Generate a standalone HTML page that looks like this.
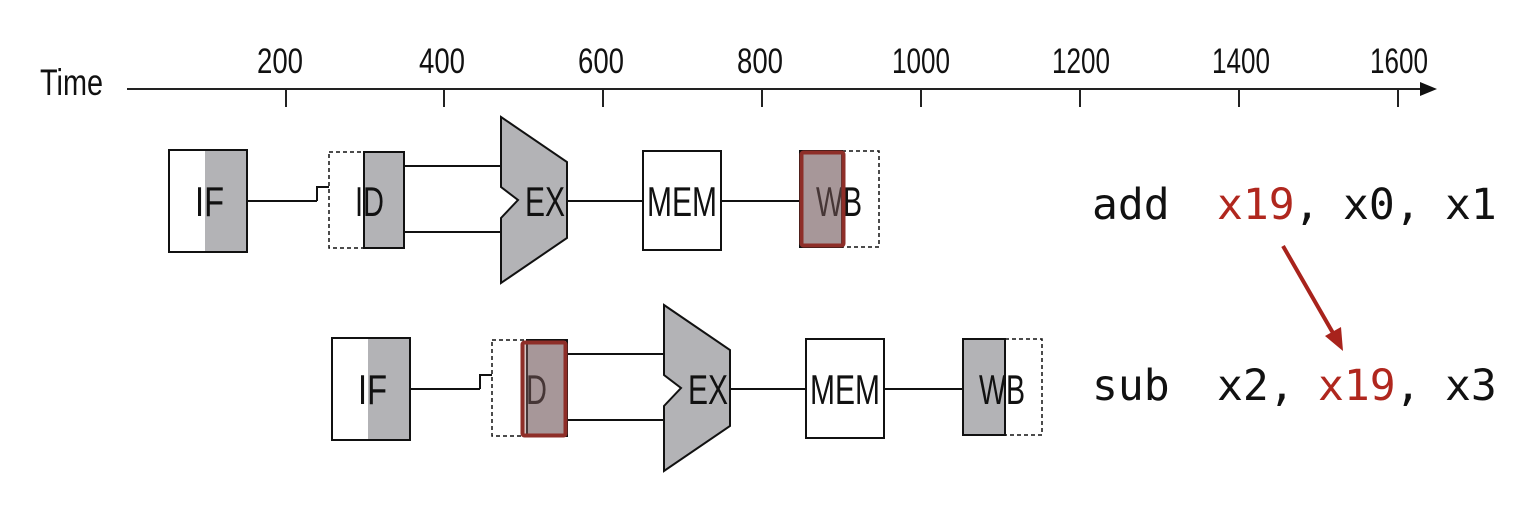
<!DOCTYPE html>
<html><head><meta charset="utf-8"><style>html,body{margin:0;padding:0;background:#fff}svg{display:block}</style></head>
<body>
<svg width="1520" height="518" viewBox="0 0 1520 518" xmlns="http://www.w3.org/2000/svg">
<defs>
<g id="row">
  <rect x="169" y="150" width="78" height="102" fill="#fff" stroke="#111" stroke-width="2"/>
  <rect x="205" y="151" width="41" height="100" fill="#b3b3b6"/>
  <line x1="247" y1="201" x2="317" y2="201" stroke="#111" stroke-width="2"/>
  <polyline points="317,201 317,187 329,187" fill="none" stroke="#111" stroke-width="2"/>
  <rect x="329" y="152" width="75" height="96" fill="#fff" stroke="#111" stroke-width="1.5" stroke-dasharray="4,3"/>
  <rect x="364" y="152" width="40" height="96" fill="#b3b3b6" stroke="#111" stroke-width="2"/>
  <line x1="404" y1="166" x2="501" y2="166" stroke="#111" stroke-width="2"/>
  <line x1="404" y1="232" x2="501" y2="232" stroke="#111" stroke-width="2"/>
  <polygon points="501,117 567,162 567,238 501,283 501,218 518,200 501,187" fill="#b3b3b6" stroke="#111" stroke-width="2"/>
  <line x1="567" y1="201" x2="643" y2="201" stroke="#111" stroke-width="2"/>
  <rect x="643" y="151" width="78" height="99" fill="#fff" stroke="#111" stroke-width="2"/>
  <line x1="721" y1="201" x2="800" y2="201" stroke="#111" stroke-width="2"/>
  <rect x="800" y="151" width="79" height="96" fill="#fff" stroke="#111" stroke-width="1.5" stroke-dasharray="4,3"/>
  <rect x="800" y="151" width="42" height="96" fill="#b3b3b6" stroke="#111" stroke-width="2"/>
  <g font-family="Liberation Sans, sans-serif" font-size="42" fill="#111">
    <text x="195" y="216" textLength="29" lengthAdjust="spacingAndGlyphs">IF</text>
    <text x="355" y="216" textLength="29" lengthAdjust="spacingAndGlyphs">ID</text>
    <text x="525" y="216" textLength="40" lengthAdjust="spacingAndGlyphs">EX</text>
    <text x="647" y="216" textLength="70" lengthAdjust="spacingAndGlyphs">MEM</text>
    <text x="816" y="216" textLength="46" lengthAdjust="spacingAndGlyphs">WB</text>
  </g>
</g>
</defs>

<line x1="127" y1="89" x2="1422" y2="89" stroke="#222" stroke-width="2"/>
<polygon points="1420,82 1437,89 1420,96" fill="#111"/>
<g stroke="#222" stroke-width="2">
  <line x1="286" y1="89" x2="286" y2="107"/><line x1="444" y1="89" x2="444" y2="107"/>
  <line x1="603" y1="89" x2="603" y2="107"/><line x1="762" y1="89" x2="762" y2="107"/>
  <line x1="921" y1="89" x2="921" y2="107"/><line x1="1080" y1="89" x2="1080" y2="107"/>
  <line x1="1239" y1="89" x2="1239" y2="107"/><line x1="1398" y1="89" x2="1398" y2="107"/>
</g>
<g font-family="Liberation Sans, sans-serif" font-size="35" fill="#111" text-anchor="middle">
  <text x="280" y="73" textLength="46" lengthAdjust="spacingAndGlyphs">200</text>
  <text x="442" y="73" textLength="46" lengthAdjust="spacingAndGlyphs">400</text>
  <text x="601" y="73" textLength="46" lengthAdjust="spacingAndGlyphs">600</text>
  <text x="760" y="73" textLength="46" lengthAdjust="spacingAndGlyphs">800</text>
  <text x="921" y="73" textLength="58" lengthAdjust="spacingAndGlyphs">1000</text>
  <text x="1081" y="73" textLength="58" lengthAdjust="spacingAndGlyphs">1200</text>
  <text x="1241" y="73" textLength="58" lengthAdjust="spacingAndGlyphs">1400</text>
  <text x="1399" y="73" textLength="58" lengthAdjust="spacingAndGlyphs">1600</text>
</g>
<text x="40" y="95" font-family="Liberation Sans, sans-serif" font-size="37" fill="#111" textLength="63" lengthAdjust="spacingAndGlyphs">Time</text>

<use href="#row"/>
<use href="#row" transform="translate(163,188)"/>

<rect x="801.5" y="152.5" width="42" height="93" fill="rgba(150,110,110,0.4)" stroke="#8e2e28" stroke-width="4" rx="2"/>
<rect x="522.5" y="342.5" width="43" height="93" fill="rgba(150,110,110,0.4)" stroke="#8e2e28" stroke-width="4" rx="2"/>

<g font-family="DejaVu Sans Mono, Liberation Mono, monospace" font-size="43" fill="#111">
  <text y="219"><tspan x="1092">add</tspan><tspan x="1217" fill="#b0271e">x19</tspan><tspan x="1294">,</tspan><tspan x="1343">x0,</tspan><tspan x="1445">x1</tspan></text>
  <text y="400"><tspan x="1092">sub</tspan><tspan x="1217">x2,</tspan><tspan x="1318" fill="#b0271e">x19</tspan><tspan x="1395">,</tspan><tspan x="1445">x3</tspan></text>
</g>
<line x1="1283" y1="246" x2="1333" y2="333" stroke="#a8231c" stroke-width="4"/>
<polygon points="1343,351 1325,336 1341,327" fill="#a8231c"/>
</svg>
</body></html>
